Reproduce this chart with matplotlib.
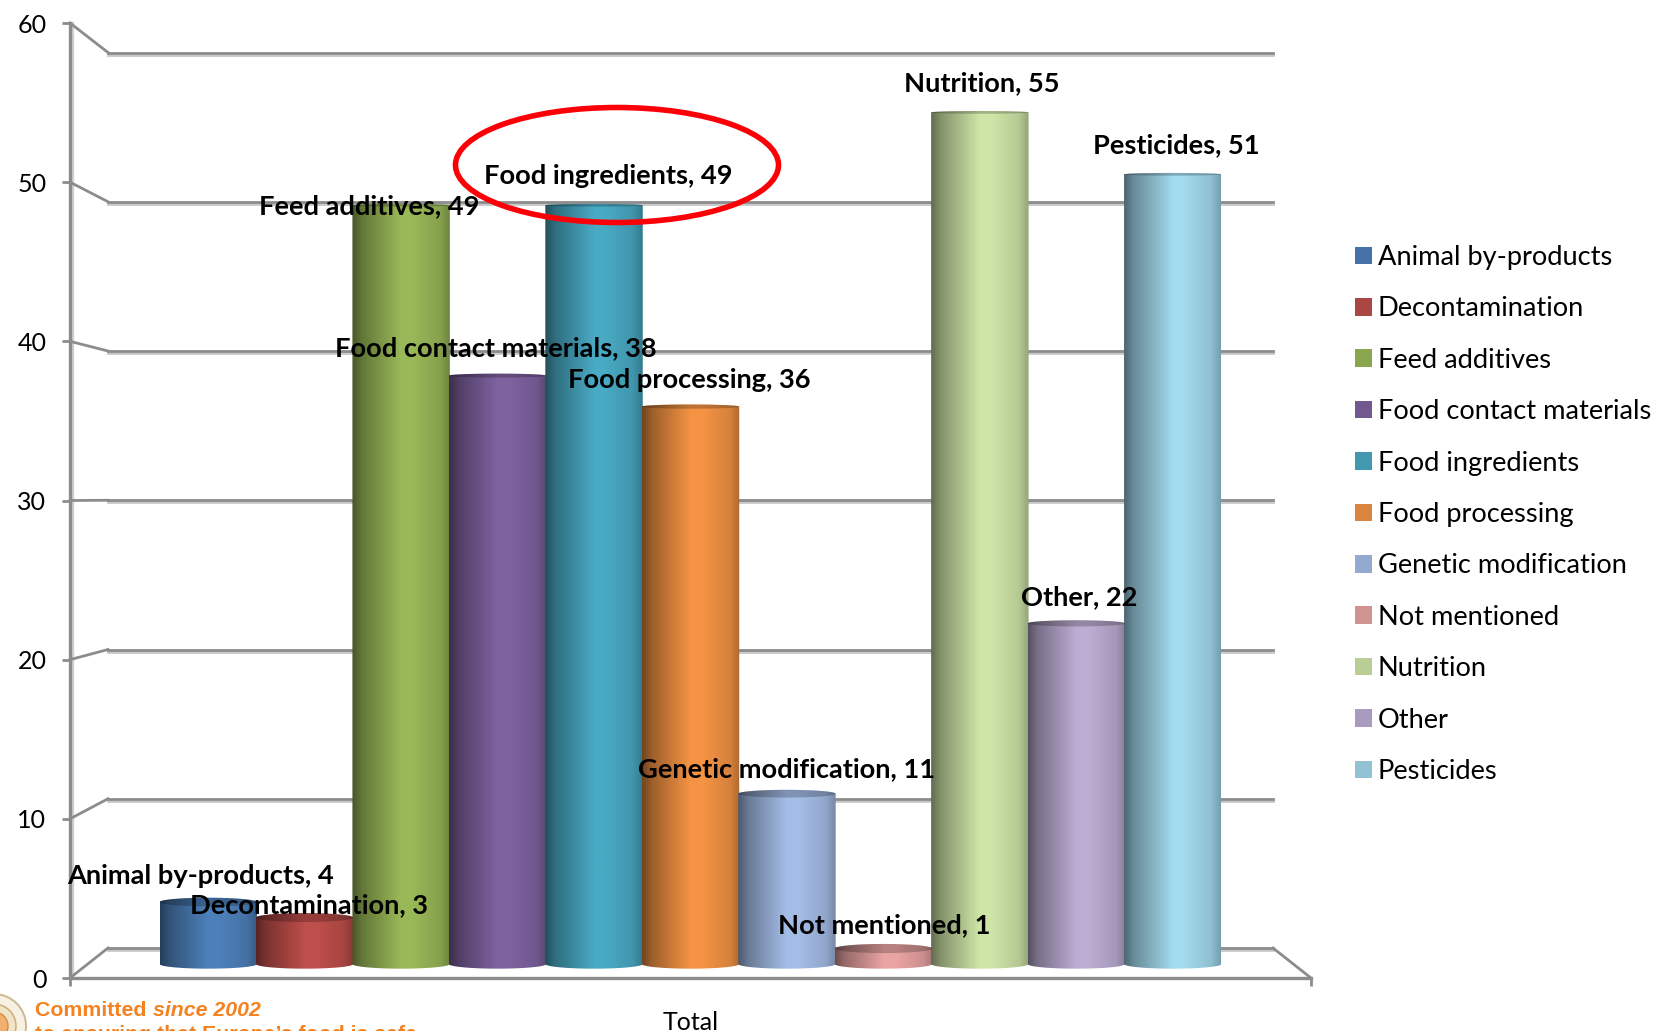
import matplotlib
matplotlib.use("Agg")
import matplotlib.pyplot as plt
import matplotlib.patheffects as pe
import numpy as np
from matplotlib.patches import Circle, Ellipse, Patch, PathPatch
from matplotlib.path import Path

WIDTH, HEIGHT = 1655, 1031

categories = [
    "Animal by-products", "Decontamination", "Feed additives",
    "Food contact materials", "Food ingredients", "Food processing",
    "Genetic modification", "Not mentioned", "Nutrition", "Other", "Pesticides",
]
counts = [4, 3, 49, 38, 49, 36, 11, 1, 55, 22, 51]
y_ticks = [0, 10, 20, 30, 40, 50, 60]
colors = [
    "#4573A7", "#AA4643", "#89A54E", "#71588F", "#4198AF", "#DB843D",
    "#93A9CF", "#D19392", "#B9CD96", "#A99BBD", "#91C3D5",
]
# label offset from the top centre of each bar, in pixels
label_dx = [-8, 4, -32, -2, 14, -1, 0, 1, 2, 3, 4]
label_dy = [26, 12, -0.5, 27, 29, 27, 25, 23.5, 29, 26, 29]

GRID = "#8c8c8c"
LABEL_SIZE = 19.6
LEGEND_SIZE = 19.6


def px_axes(fig, left, top, right, bottom):
    return fig.add_axes([
        left / WIDTH,
        1 - bottom / HEIGHT,
        (right - left) / WIDTH,
        (bottom - top) / HEIGHT,
    ])


def draw_bar(ax, x, value, color):
    base = np.array(matplotlib.colors.to_rgb(color))
    stops = np.array([0.0, 0.10, 0.5, 0.62, 0.90, 1.0])
    gains = np.array([0.52, 0.72, 1.12, 1.12, 0.98, 0.80])
    shade = np.interp(np.linspace(0, 1, 200), stops, gains)
    image = np.clip(shade[None, :, None] * base[None, None, :], 0, 1)

    # the cylinder is seen from above, less so the higher the top is
    cap = max(0.09, 0.3 - value * 0.0045)
    theta = np.linspace(0, np.pi, 40)
    half = 0.505
    bottom_arc = np.column_stack([x - half * np.cos(theta), -0.3 * np.sin(theta)])
    top_arc = np.column_stack([x + half * np.cos(theta), value + cap * np.sin(theta)])
    outline = Path(np.vstack([bottom_arc, top_arc, bottom_arc[:1]]), closed=True)

    im = ax.imshow(
        image,
        extent=(x - half, x + half, -1, value + 1),
        aspect="auto",
        interpolation="bilinear",
        zorder=2 + x * 0.01,
    )
    clip = PathPatch(outline, transform=ax.transData, facecolor="none", edgecolor="none")
    ax.add_patch(clip)
    im.set_clip_path(clip)

    ax.add_patch(Ellipse(
        (x, value),
        2 * half,
        2 * cap,
        facecolor="black",
        alpha=0.22,
        edgecolor="none",
        zorder=2.5 + x * 0.01,
    ))


fig = plt.figure(figsize=(WIDTH / 100, HEIGHT / 100), dpi=100)
plt.rcParams["font.family"] = ["Lato", "DejaVu Sans"]

# back wall with the gridlines
ax_back = px_axes(fig, 108, 52.5, 1273, 948)
ax_back.set_ylim(0, 60)
ax_back.set_xlim(0, 1)
ax_back.set_yticks(y_ticks)
ax_back.set_xticks([])
ax_back.tick_params(length=0, labelleft=False)
ax_back.grid(True, axis="y", color=GRID, linewidth=2)
for line in ax_back.get_ygridlines():
    line.set_clip_on(False)
    line.set_path_effects([
        pe.SimpleLineShadow(offset=(0, -1.6), shadow_color="#c8c8c8", alpha=1.0),
        pe.Normal(),
    ])
for spine in ax_back.spines.values():
    spine.set_visible(False)
ax_back.patch.set_alpha(0)

# front plane with the value axis
ax_front = px_axes(fig, 70, 23, 1311, 978)
ax_front.set_ylim(0, 60)
ax_front.set_xlim(0, 1)
ax_front.set_yticks(y_ticks)
ax_front.set_xticks([0, 1])
ax_front.set_xticklabels(["", ""])
ax_front.tick_params(axis="y", length=6, width=2, color=GRID, labelsize=18, pad=11)
ax_front.tick_params(axis="x", length=6, width=2, color=GRID)
ax_front.set_xlabel("Total", fontsize=18, labelpad=14)
ax_front.spines[["top", "right"]].set_visible(False)
ax_front.spines[["left", "bottom"]].set_color(GRID)
ax_front.spines[["left", "bottom"]].set_linewidth(2.4)
ax_front.spines["left"].set_path_effects([
    pe.SimpleLineShadow(offset=(1.6, 0), shadow_color="#d0d0d0", alpha=1.0),
    pe.Normal(),
])
ax_front.patch.set_alpha(0)

# pixel overlay for the 3d corner lines, the callout and the footer
ax_px = px_axes(fig, 0, 0, WIDTH, HEIGHT)
ax_px.set_xlim(0, WIDTH)
ax_px.set_ylim(HEIGHT, 0)
ax_px.axis("off")
for tick in y_ticks:
    front_y = 978 + (23 - 978) * tick / 60
    back_y = 948 + (52.5 - 948) * tick / 60
    ax_px.plot([70, 108], [front_y, back_y], color=GRID, linewidth=2, zorder=1)
ax_px.plot([1273, 1311], [948, 978], color=GRID, linewidth=2, zorder=1)

# bars
ax_bars = px_axes(fig, 160, 4, 1221, 979.5)
for i, (value, color) in enumerate(zip(counts, colors)):
    draw_bar(ax_bars, i, value, color)
ax_bars.set_xlim(-0.5, 10.5)
ax_bars.set_ylim(-1, 62)
ax_bars.axis("off")

handles = [Patch(facecolor=c, edgecolor="none") for c in colors]
fig.legend(
    handles,
    categories,
    loc="upper left",
    bbox_to_anchor=(1355 / WIDTH, 1 - 245 / HEIGHT),
    frameon=False,
    fontsize=LEGEND_SIZE,
    handlelength=0.62,
    handleheight=0.62,
    handletextpad=0.22,
    labelspacing=0.97,
    borderpad=0,
    borderaxespad=0,
)

ax_px.set_zorder(5)
ax_px.add_patch(Ellipse(
    (617, 165), 323, 115, facecolor="none", edgecolor="#fb0007", linewidth=4, zorder=3,
))

for i, (name, value) in enumerate(zip(categories, counts)):
    ax_bars.annotate(
        f"{name}, {value}",
        xy=(i, value),
        xytext=(label_dx[i] * 0.72, label_dy[i] * 0.72),
        textcoords="offset points",
        ha="center",
        va="center",
        fontsize=LABEL_SIZE,
        fontweight="bold",
        color="black",
        annotation_clip=False,
        zorder=10,
    )
ax_bars.set_zorder(3)

# footer, cut off by the edge of the slide
ax_px.add_patch(Circle((-6, 1026), 32, facecolor="#f7f1e3", edgecolor="#cdb98f", linewidth=1.4))
ax_px.add_patch(Circle((-6, 1026), 22, facecolor="#efe3c8", edgecolor="#c9a96e", linewidth=1.0))
ax_px.add_patch(Circle((-6, 1026), 14, facecolor="#f0b070", edgecolor="#d98a3a", linewidth=1.0))
orange = "#f58220"
ax_px.text(35, 1010, "Committed ", family="Liberation Sans", fontsize=15.3, fontweight="bold",
           color=orange, va="center")
ax_px.text(153, 1010, "since 2002", family="Liberation Sans", fontsize=15.3, fontweight="bold",
           style="italic", color=orange, va="center")
ax_px.text(35, 1034, "to ensuring that Europe\u2019s food is safe", family="Liberation Sans",
           fontsize=15.3, fontweight="bold", color=orange, va="center")

fig.savefig("out.png", dpi=100)
